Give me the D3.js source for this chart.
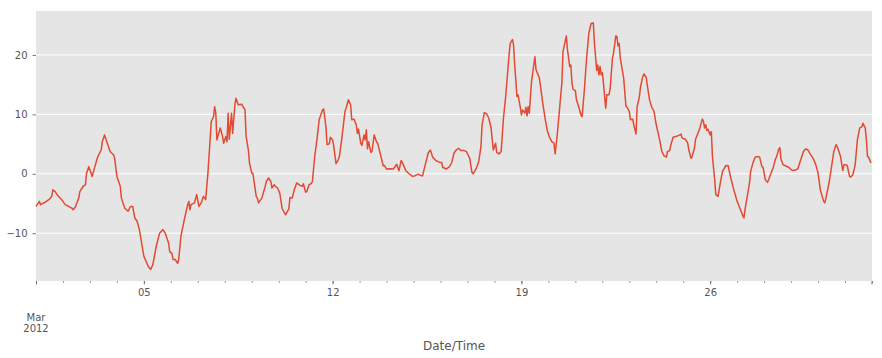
<!DOCTYPE html>
<html>
<head>
<meta charset="utf-8">
<script src="https://cdnjs.cloudflare.com/ajax/libs/d3/7.8.5/d3.min.js"></script>
<style>
  body { margin: 0; background: #fff; }
  #chart text { font-family: "DejaVu Sans", sans-serif; fill: #555; }
</style>
</head>
<body>
<div id="chart"><svg></svg></div>
<script>
// hourly temperature, March 2012 (hours counted from Mar 1 00:00)
var startDate = new Date(2012, 2, 1);
var endDate = new Date(2012, 3, 1);

var hours = [
  0, 3, 4, 8, 12, 14, 15, 17, 20, 23, 26, 29, 32, 33, 35, 38, 39, 42, 44, 45,
  47, 50, 52, 55, 58, 59, 61, 63, 66, 69, 70, 72, 75, 76, 79, 82, 84, 86, 88, 90,
  92, 96, 100, 102, 104, 107, 110, 113, 115, 118, 119, 121, 122, 124, 126, 127, 129, 132, 135, 136,
  137, 138, 141, 143, 145, 147, 149, 151, 153, 156, 158, 159, 160, 161, 164, 166, 167, 169, 170, 171,
  172, 174, 175, 177, 178, 180, 183, 184, 186, 187, 189, 190, 192, 193, 196, 197, 198, 201, 204, 205,
  207, 209, 210, 212, 213, 215, 217, 219, 222, 225, 226, 228, 230, 232, 235, 237, 238, 240, 241, 243,
  245, 246, 248, 250, 252, 255, 256, 258, 259, 261, 262, 264, 265, 267, 269, 270, 272, 275, 276, 278,
  280, 281, 283, 285, 286, 287, 289, 290, 292, 293, 294, 295, 296, 298, 299, 301, 303, 304, 307, 309,
  310, 312, 315, 318, 321, 323, 325, 327, 329, 332, 335, 337, 340, 343, 344, 346, 349, 351, 353, 356,
  359, 361, 362, 365, 368, 370, 372, 374, 376, 378, 381, 383, 386, 388, 389, 392, 394, 396, 397, 399,
  401, 403, 405, 407, 409, 410, 412, 414, 416, 418, 421, 422, 424, 425, 426, 427, 428, 429, 431, 432,
  433, 435, 436, 437, 438, 439, 441, 444, 445, 447, 448, 451, 453, 455, 457, 459, 461, 462, 464, 466,
  468, 469, 472, 473, 475, 476, 477, 478, 480, 481, 483, 485, 486, 488, 490, 492, 494, 496, 497, 499,
  500, 501, 502, 503, 504, 505, 507, 508, 510, 511, 513, 514, 516, 517, 518, 519, 520, 523, 525, 526,
  528, 529, 531, 532, 534, 535, 537, 538, 540, 541, 543, 544, 546, 548, 550, 552, 555, 557, 559, 561,
  562, 564, 565, 567, 570, 573, 574, 575, 578, 580, 581, 583, 584, 586, 587, 590, 591, 593, 594, 595,
  596, 597, 598, 600, 601, 602, 604, 605, 607, 609, 611, 614, 616, 618, 621, 624, 627, 629, 630, 631,
  633, 635, 636, 638, 640, 642, 644, 646, 647, 649, 651, 652, 655, 656, 658, 659, 661, 662, 663, 665,
  667, 670, 673, 676, 678, 681, 683, 685, 687, 689, 692, 694, 696, 698, 701, 702, 703, 706, 708, 710,
  712, 713, 715, 716, 718, 719, 721, 722, 724, 725, 727, 729, 731, 733, 735, 736, 738, 739, 740, 741,
  743
];

var temps = [
  -5.5, -4.65, -5.2, -4.8, -4.25, -3.8, -2.7, -3.0, -3.8, -4.4, -5.2, -5.5, -5.8, -6.05, -5.6, -4.1, -3.0, -2.1, -1.85, 0.1,
  1.2, -0.45, 0.95, 2.9, 4.0, 5.4, 6.55, 5.4, 3.75, 3.2, 2.6, -0.45, -2.1, -4.1, -5.8, -6.3, -5.5, -5.5, -7.45, -8.0,
  -9.4, -13.9, -15.6, -16.1, -15.3, -12.2, -10.0, -9.4, -10.0, -11.65, -13.1, -13.45, -14.45, -14.45, -15.1, -14.45, -10.5, -7.7, -5.2, -4.65,
  -6.05, -5.2, -4.9, -3.5, -5.5, -4.9, -3.8, -4.35, 0.1, 8.8, 9.6, 11.3, 10.2, 5.7, 7.7, 6.3, 5.15, 6.3, 5.4, 10.2,
  5.8, 10.2, 6.8, 11.6, 12.7, 11.6, 11.7, 11.4, 10.75, 6.3, 4.0, 1.8, 0.1, 0.1, -3.8, -4.1, -4.9, -4.1, -2.1, -1.3,
  -0.7, -1.3, -2.4, -1.85, -2.1, -2.4, -3.3, -5.8, -6.9, -5.9, -4.0, -4.1, -2.6, -1.55, -1.95, -2.1, -1.7, -3.1, -3.0, -1.85,
  -1.65, -1.3, 2.9, 5.7, 9.1, 10.75, 10.9, 7.95, 4.9, 5.05, 6.15, 5.7, 4.6, 1.7, 2.35, 2.9, 5.7, 10.5, 11.05, 12.45,
  11.6, 9.1, 9.2, 8.25, 6.8, 7.5, 5.15, 4.75, 6.55, 5.7, 7.4, 4.2, 5.4, 3.6, 3.75, 6.55, 5.4, 5.15, 2.9, 1.35,
  1.4, 0.8, 0.85, 0.8, 1.6, 0.5, 2.25, 1.5, 0.55, 0.0, -0.45, -0.35, -0.05, -0.35, -0.35, 1.2, 3.5, 4.0, 2.8, 2.2,
  1.95, 1.9, 1.1, 0.8, 1.2, 1.9, 3.5, 4.0, 4.3, 3.9, 3.9, 3.75, 2.6, 0.2, 0.0, 0.95, 2.05, 4.6, 8.25, 10.3,
  10.1, 9.35, 7.7, 4.0, 5.15, 3.6, 3.35, 3.75, 9.35, 13.0, 20.0, 21.95, 22.6, 21.7, 18.3, 15.8, 13.0, 13.3, 11.2, 9.9,
  10.75, 10.2, 11.2, 9.75, 11.3, 10.2, 15.5, 19.7, 17.5, 16.6, 16.1, 11.9, 9.35, 7.3, 6.15, 5.4, 5.15, 3.35, 6.8, 11.05,
  15.25, 20.55, 23.2, 20.85, 18.05, 18.3, 15.25, 14.2, 14.0, 12.45, 11.3, 9.9, 9.6, 14.1, 19.45, 23.65, 25.3, 25.4, 21.95, 17.4,
  18.3, 16.65, 18.05, 16.65, 17.0, 15.25, 11.05, 13.3, 13.3, 14.4, 19.45, 20.3, 23.2, 23.1, 21.5, 21.95, 19.45, 16.1, 11.4, 11.2,
  10.5, 9.1, 9.2, 8.25, 6.7, 11.3, 13.0, 14.65, 16.35, 16.8, 16.25, 14.95, 12.45, 11.2, 10.5, 8.25, 5.7, 3.75, 3.0, 2.8,
  3.75, 3.9, 4.9, 6.15, 6.3, 6.55, 6.7, 6.0, 5.8, 5.15, 4.0, 2.6, 3.0, 4.3, 5.8, 7.3, 7.85, 9.2, 8.8, 7.7,
  8.25, 7.3, 7.5, 6.55, 7.1, 2.9, -1.0, -3.5, -3.8, -1.55, 0.4, 1.4, 1.35, -0.45, -2.7, -4.65, -6.05, -7.05, -7.45, -6.05,
  -3.8, -1.55, 0.4, 1.8, 2.8, 2.9, 2.8, 1.2, 1.1, -1.0, -1.45, -1.0, 0.55, 0.95, 2.45, 2.8, 4.15, 4.4, 2.45, 1.5,
  1.35, 1.05, 0.55, 0.65, 0.85, 2.6, 3.75, 4.2, 4.0, 3.35, 2.45, 1.5, 0.1, -2.7, -4.65, -4.9, -4.1, -1.3, 1.2, 3.75,
  4.9, 4.6, 3.5, 2.9, 0.55, 1.5, 1.5, 1.35, -0.45, -0.55, -0.15, 1.5, 5.7, 7.7, 7.95, 8.5, 7.7, 5.7, 2.9, 2.8,
  1.8
];

var yTicks = [-10, 0, 10, 20];
var xTickDays = [5, 12, 19, 26];
var xTickLabels = ["05", "12", "19", "26"];
var monthLabel = ["Mar", "2012"];
var xTitle = "Date/Time";

var build = function() {
  var margin = { top: 11, right: 10, bottom: 77, left: 36 };
  var width = 882 - margin.left - margin.right;
  var height = 358 - margin.top - margin.bottom;

  var ds = [];
  for (var i = 0, n = hours.length; i < n; i++) {
    ds.push({ x: d3.timeHour.offset(startDate, hours[i]), y: temps[i] });
  }

  var xScale = d3.scaleTime().
    range([0, width]).
    domain([startDate, endDate]);

  var yScale = d3.scaleLinear().
    range([height, 0]).
    domain([-18.05, 27.4]);

  var svg = d3.select("#chart svg").
    attr("width", 882).
    attr("height", 358).
    append("g").
    attr("transform", "translate(" + margin.left + "," + margin.top + ")");

  svg.append("rect").
    attr("width", width).
    attr("height", height).
    attr("fill", "#e5e5e5");

  // horizontal grid
  svg.selectAll("line.grid").
    data(yTicks).
    enter().append("line").
    attr("class", "grid").
    attr("x1", 0).
    attr("x2", width).
    attr("y1", function(d) { return yScale(d); }).
    attr("y2", function(d) { return yScale(d); }).
    attr("stroke", "#fff").
    attr("stroke-width", 1);

  var line = d3.line().
    x(function(d) { return xScale(d.x); }).
    y(function(d) { return yScale(d.y); });

  svg.append("path").
    datum(ds).
    attr("fill", "none").
    attr("stroke", "#e24a33").
    attr("stroke-width", 1.5).
    attr("stroke-linejoin", "round").
    attr("d", line);

  var yAxis = d3.axisLeft(yScale).
    tickValues(yTicks).
    tickSize(3.5).
    tickPadding(5).
    tickFormat(function(d) { return String(d).replace("-", "\u2212"); });

  var gY = svg.append("g").call(yAxis);
  gY.select(".domain").remove();
  gY.selectAll("line").attr("stroke", "#555").attr("stroke-width", 0.8);
  gY.selectAll("text").attr("font-size", 10).attr("fill", "#555");

  // minor ticks, one per day
  var minorAxis = d3.axisBottom(xScale).
    tickValues(d3.timeDay.range(startDate, d3.timeDay.offset(endDate, 1))).
    tickSize(2).
    tickFormat("");

  var gMinor = svg.append("g").
    attr("transform", "translate(0," + height + ")").
    call(minorAxis);
  gMinor.select(".domain").remove();
  gMinor.selectAll("line").attr("stroke", "#555").attr("stroke-width", 0.6);

  var majorDates = [startDate].concat(xTickDays.map(function(d) {
    return new Date(2012, 2, d);
  }));
  var majorLabels = [""].concat(xTickLabels);

  var xAxis = d3.axisBottom(xScale).
    tickValues(majorDates).
    tickSize(3.5).
    tickPadding(4.3).
    tickFormat(function(d, i) { return majorLabels[i]; });

  var gX = svg.append("g").
    attr("transform", "translate(0," + height + ")").
    call(xAxis);
  gX.select(".domain").remove();
  gX.selectAll("line").attr("stroke", "#555").attr("stroke-width", 0.8);
  gX.selectAll("text").attr("font-size", 10).attr("fill", "#555");

  svg.append("line").
    attr("x1", xScale(endDate)).
    attr("x2", xScale(endDate)).
    attr("y1", height).
    attr("y2", height + 3.5).
    attr("stroke", "#555").
    attr("stroke-width", 0.8);

  svg.selectAll("text.month").
    data(monthLabel).
    enter().append("text").
    attr("class", "month").
    attr("x", xScale(startDate)).
    attr("y", function(d, i) { return height + 39.5 + i * 11.7; }).
    attr("text-anchor", "middle").
    attr("font-size", 10).
    text(function(d) { return d; });

  svg.append("text").
    attr("x", width / 2).
    attr("y", height + 68.5).
    attr("text-anchor", "middle").
    attr("font-size", 12).
    text(xTitle);
};

build();
</script>
</body>
</html>
